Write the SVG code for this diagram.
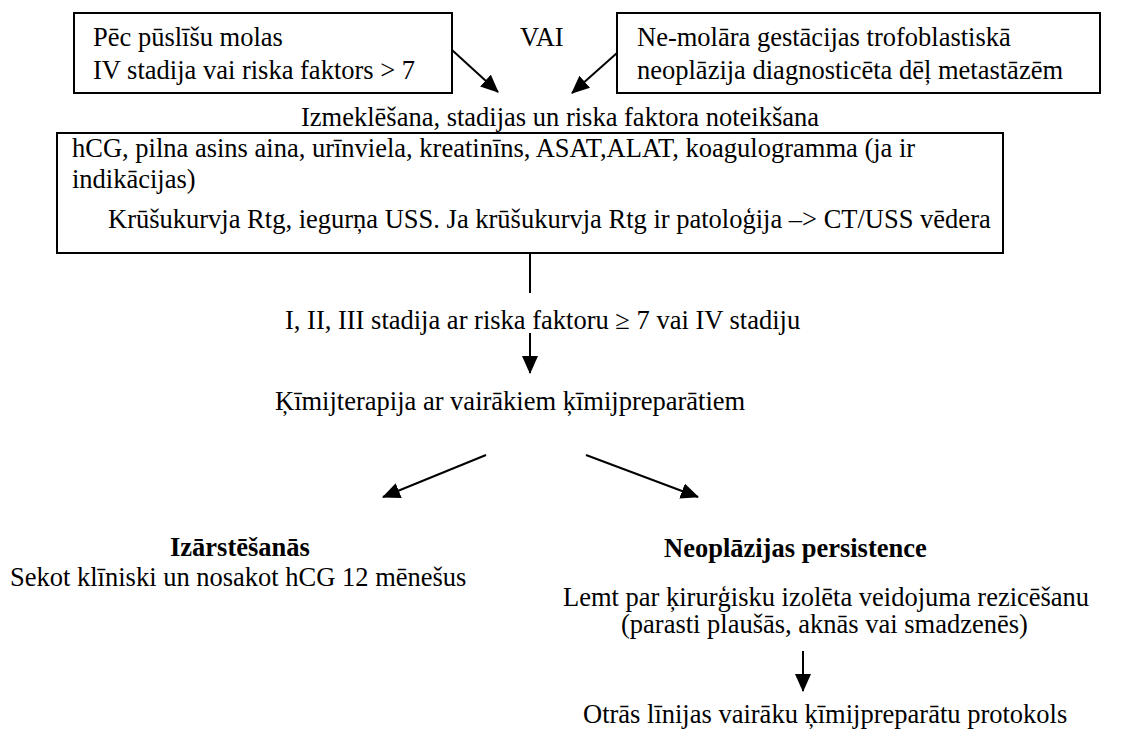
<svg xmlns="http://www.w3.org/2000/svg" width="1122" height="733" viewBox="0 0 1122 733">
  <defs>
    <style>
      text { font-family: 'Liberation Serif', 'Times New Roman', serif; font-size: 26.5px; fill: #000; }
      .b { font-weight: bold; }
      .box { fill: #fff; stroke: #000; stroke-width: 2; }
      .link { stroke: #000; stroke-width: 2; fill: none; }
      .arr { stroke: #000; stroke-width: 2; fill: none; marker-end: url(#head); }
    </style>
    <marker id="head" viewBox="0 0 18 16" refX="17" refY="8" markerWidth="18" markerHeight="16" markerUnits="userSpaceOnUse" orient="auto">
      <path d="M0,0 L18,8 L0,16 z" fill="#000"/>
    </marker>
  </defs>
  <rect width="1122" height="733" fill="#fff"/>

  <g id="molar-start">
    <rect class="box" x="74" y="13" width="378" height="80"/>
    <text x="93" y="46">Pēc pūslīšu molas</text>
    <text x="93" y="79">IV stadija vai riska faktors &gt; 7</text>
  </g>

  <g id="or-label">
    <text x="520" y="46">VAI</text>
  </g>

  <g id="nonmolar-start">
    <rect class="box" x="617" y="13" width="483" height="80"/>
    <text x="637" y="46">Ne-molāra gestācijas trofoblastiskā</text>
    <text x="637" y="79">neoplāzija diagnosticēta dēļ metastāzēm</text>
  </g>

  <g id="workup-title">
    <text x="301" y="126">Izmeklēšana, stadijas un riska  faktora noteikšana</text>
  </g>

  <g id="workup">
    <rect class="box" x="57" y="133" width="946" height="120"/>
    <text x="72" y="157">hCG, pilna asins aina, urīnviela, kreatinīns, ASAT,ALAT, koagulogramma (ja ir</text>
    <text x="72" y="188">indikācijas)</text>
    <text x="108" y="228">Krūšukurvja Rtg, iegurņa USS. Ja krūšukurvja Rtg ir patoloģija –&gt; CT/USS vēdera</text>
  </g>

  <g id="stage">
    <text x="285" y="329">I, II, III stadija ar riska faktoru ≥ 7 vai IV stadiju</text>
  </g>

  <g id="chemo">
    <text x="275" y="410">Ķīmijterapija ar vairākiem  ķīmijpreparātiem</text>
  </g>

  <g id="cure">
    <text class="b" x="170" y="556">Izārstēšanās</text>
    <text x="10" y="586">Sekot klīniski un nosakot hCG 12 mēnešus</text>
  </g>

  <g id="persistence">
    <text class="b" x="664" y="557">Neoplāzijas persistence</text>
    <text x="563" y="606">Lemt par ķirurģisku izolēta veidojuma rezicēšanu</text>
    <text x="621" y="633">(parasti plaušās, aknās vai smadzenēs)</text>
  </g>

  <g id="second-line">
    <text x="583" y="723">Otrās līnijas vairāku ķīmijpreparātu protokols</text>
  </g>

  <g id="connectors">
    <line class="arr" x1="452" y1="50" x2="498" y2="92"/>
    <line class="arr" x1="617" y1="53" x2="572" y2="93"/>
    <line class="link" x1="530" y1="253" x2="530" y2="293"/>
    <line class="arr" x1="530" y1="333" x2="530" y2="373"/>
    <line class="arr" x1="486" y1="455" x2="383" y2="497"/>
    <line class="arr" x1="586" y1="455" x2="698" y2="497"/>
    <line class="arr" x1="803" y1="651" x2="803" y2="691"/>
  </g>
</svg>
